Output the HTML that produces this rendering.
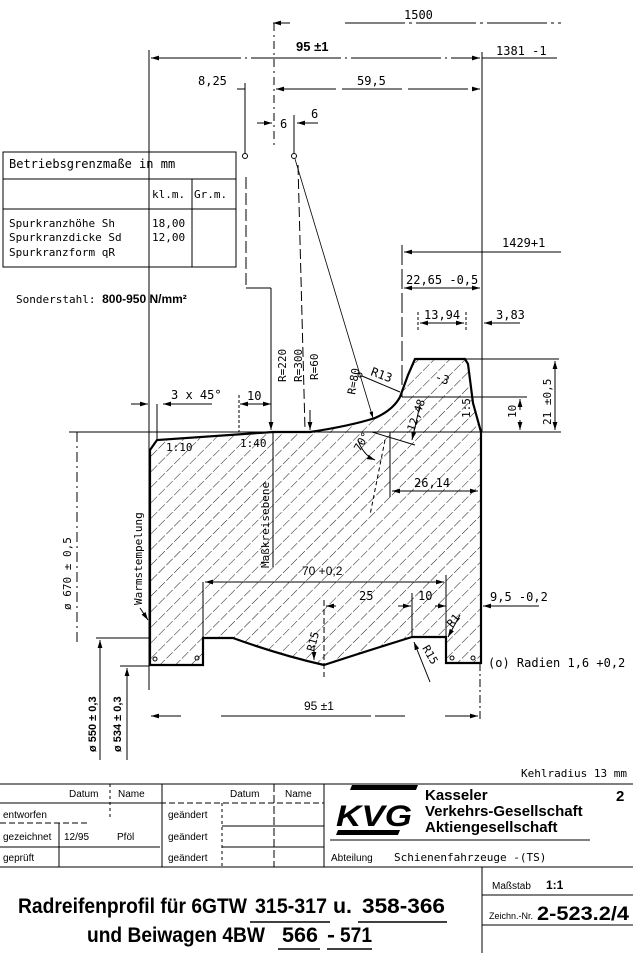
<!DOCTYPE html>
<html><head><meta charset="utf-8"><style>
html,body{margin:0;padding:0;background:#fff;}
svg{display:block;}
</style></head><body>
<svg width="633" height="953" viewBox="0 0 633 953" xmlns="http://www.w3.org/2000/svg" font-family="DejaVu Sans Mono, Liberation Mono, monospace">
<defs>
<pattern id="h" patternUnits="userSpaceOnUse" width="11" height="11" patternTransform="rotate(45)">
<line x1="0" y1="0" x2="0" y2="11" stroke="#000" stroke-width="0.9" stroke-dasharray="7 2"/>
</pattern>
<marker id="a" viewBox="0 0 10 6" refX="10" refY="3" markerWidth="8" markerHeight="5" orient="auto-start-reverse"><path d="M0,0L10,3L0,6z" fill="#000"/></marker>
</defs>
<g fill="none" stroke="#000" stroke-width="1">
<path d="M150,450 L157,440 L273,432 L310,432 Q350,426 375,418 Q393,410 400,397 L408,375 L415,359 L465,359 L468,364 L473,403 L481,432 L481,663 L446,663 L446,637 L412,637 Q370,650 324,665 Q280,655 233,638 L203,638 L203,665 L150,665 Z" fill="url(#h)" stroke-width="2.2"/>
<line x1="273" y1="23" x2="290" y2="23" marker-start="url(#a)"/>
<line x1="345" y1="23" x2="561" y2="23" stroke-dasharray="60 4 3 4"/>
<line x1="149" y1="50" x2="149" y2="690"/>
<line x1="482" y1="52" x2="482" y2="432"/>
<line x1="151" y1="58" x2="480" y2="58" marker-start="url(#a)" marker-end="url(#a)" stroke-dasharray="90 4 2 4"/>
<line x1="482" y1="58" x2="557" y2="58"/>
<line x1="276" y1="89" x2="480" y2="89" marker-start="url(#a)" marker-end="url(#a)" stroke-dasharray="60 6"/>
<line x1="237" y1="89" x2="245" y2="89"/>
<line x1="245" y1="83" x2="245" y2="153"/>
<circle cx="245" cy="156" r="2.5"/>
<line x1="274" y1="23" x2="274" y2="145" stroke-dasharray="8 4 2 4"/>
<line x1="257" y1="123" x2="272" y2="123" marker-end="url(#a)"/>
<line x1="318" y1="123" x2="297" y2="123" marker-end="url(#a)"/>
<line x1="294" y1="115" x2="294" y2="153"/>
<circle cx="294" cy="156" r="2.5"/>
<line x1="295" y1="159" x2="373" y2="418" stroke-width="0.8" marker-end="url(#a)"/>
<line x1="298" y1="165" x2="305" y2="430" stroke-dasharray="10 4"/>
<line x1="246" y1="177" x2="246" y2="288" stroke-dasharray="12 4"/>
<line x1="246" y1="288" x2="271" y2="288"/>
<line x1="271" y1="288" x2="271" y2="430" marker-end="url(#a)"/>
<line x1="310" y1="410" x2="310" y2="430" marker-end="url(#a)"/>
<circle cx="360" cy="375" r="2"/>
<line x1="362" y1="376" x2="400" y2="392"/>
<rect x="3" y="152" width="233" height="115"/>
<line x1="3" y1="179" x2="236" y2="179"/>
<line x1="3" y1="209" x2="236" y2="209"/>
<line x1="149" y1="179" x2="149" y2="267"/>
<line x1="192" y1="179" x2="192" y2="267"/>
<line x1="402" y1="245" x2="402" y2="397" stroke-dasharray="20 4"/>
<line x1="404" y1="252" x2="561" y2="252" marker-start="url(#a)"/>
<line x1="404" y1="288" x2="480" y2="288" marker-start="url(#a)" marker-end="url(#a)"/>
<line x1="418" y1="312" x2="418" y2="330" stroke-dasharray="3 2"/>
<line x1="466" y1="312" x2="466" y2="330" stroke-dasharray="3 2"/>
<line x1="420" y1="323" x2="464" y2="323" marker-start="url(#a)" marker-end="url(#a)"/>
<line x1="484" y1="323" x2="520" y2="323" marker-start="url(#a)"/>
<line x1="465" y1="359" x2="559" y2="359"/>
<line x1="402" y1="397" x2="527" y2="397"/>
<line x1="555" y1="361" x2="555" y2="430" marker-start="url(#a)" marker-end="url(#a)"/>
<line x1="520" y1="399" x2="520" y2="410" marker-start="url(#a)"/>
<line x1="520" y1="430" x2="520" y2="420" marker-start="url(#a)"/>
<line x1="372" y1="432" x2="415" y2="445"/>
<line x1="420" y1="405" x2="412" y2="440" marker-end="url(#a)"/>
</g>
<g fill="none" stroke="#000" stroke-width="1">
<line x1="69" y1="432" x2="561" y2="432"/>
<line x1="77" y1="432" x2="77" y2="642" stroke-dasharray="10 4 2 4"/>
<line x1="131" y1="404" x2="148" y2="404" marker-end="url(#a)"/>
<line x1="163" y1="404" x2="212" y2="404" marker-start="url(#a)"/>
<line x1="157" y1="404" x2="157" y2="440"/>
<line x1="240" y1="404" x2="271" y2="404" marker-start="url(#a)" marker-end="url(#a)"/>
<line x1="239" y1="395" x2="239" y2="432" stroke-dasharray="3 2"/>
<line x1="273" y1="432" x2="273" y2="567"/>
<path d="M358,440 Q363,455 375,460" marker-end="url(#a)"/>
<line x1="385" y1="440" x2="370" y2="515" stroke-dasharray="4 3"/>
<line x1="390" y1="432" x2="390" y2="497"/>
<line x1="392" y1="491" x2="478" y2="491" marker-start="url(#a)" marker-end="url(#a)"/>
<line x1="205" y1="582" x2="444" y2="582" marker-start="url(#a)" marker-end="url(#a)"/>
<line x1="446" y1="575" x2="446" y2="637"/>
<line x1="203" y1="582" x2="203" y2="638"/>
<line x1="324" y1="600" x2="324" y2="677" stroke-dasharray="6 3"/>
<line x1="326" y1="606" x2="336" y2="606" marker-start="url(#a)"/>
<line x1="398" y1="606" x2="411" y2="606" marker-end="url(#a)"/>
<line x1="435" y1="606" x2="446" y2="606" marker-end="url(#a)"/>
<line x1="412" y1="593" x2="412" y2="637"/>
<line x1="483" y1="606" x2="539" y2="606" marker-start="url(#a)"/>
<line x1="314" y1="645" x2="314" y2="660" marker-end="url(#a)"/>
<line x1="430" y1="682" x2="414" y2="642" marker-end="url(#a)"/>
<line x1="460" y1="615" x2="448" y2="637" marker-end="url(#a)"/>
<line x1="140" y1="608" x2="148" y2="620" marker-end="url(#a)"/>
<line x1="96" y1="638" x2="149" y2="638"/>
<line x1="120" y1="666" x2="149" y2="666"/>
<line x1="100" y1="680" x2="100" y2="640" marker-end="url(#a)"/>
<line x1="100" y1="680" x2="100" y2="760"/>
<line x1="127" y1="690" x2="127" y2="668" marker-end="url(#a)"/>
<line x1="127" y1="690" x2="127" y2="760"/>
<line x1="480" y1="663" x2="480" y2="720" stroke-dasharray="8 3 2 3"/>
<line x1="151" y1="716" x2="478" y2="716" marker-start="url(#a)" marker-end="url(#a)" stroke-dasharray="30 40 150 4"/>
<circle cx="155" cy="659" r="2"/><circle cx="197" cy="658" r="2"/><circle cx="452" cy="658" r="2"/><circle cx="473" cy="658" r="2"/>
</g>
<g font-size="12">
<text x="404" y="19">1500</text>
<text x="296" y="51" font-family="Liberation Sans, sans-serif" font-weight="bold" font-size="13">95 ±1</text>
<text x="496" y="55">1381 -1</text>
<text x="198" y="85">8,25</text>
<text x="357" y="85">59,5</text>
<text x="280" y="128">6</text>
<text x="311" y="118">6</text>
<text x="9" y="168" font-size="12">Betriebsgrenzmaße in mm</text>
<text x="152" y="198" font-size="11">kl.m.</text>
<text x="194" y="198" font-size="11">Gr.m.</text>
<text x="9" y="227" font-size="11">Spurkranzhöhe   Sh</text>
<text x="9" y="241" font-size="11">Spurkranzdicke  Sd</text>
<text x="9" y="256" font-size="11">Spurkranzform   qR</text>
<text x="152" y="227" font-size="11">18,00</text>
<text x="152" y="241" font-size="11">12,00</text>
<text x="16" y="303" font-size="11">Sonderstahl: <tspan font-family="Liberation Sans, sans-serif" font-weight="bold" font-size="12">800-950 N/mm²</tspan></text>
<text x="502" y="247">1429+1</text>
<text x="406" y="284">22,65 -0,5</text>
<text x="424" y="319">13,94</text>
<text x="496" y="319">3,83</text>
<text x="171" y="399">3 x 45°</text>
<text x="247" y="400">10</text>
<text x="166" y="451" font-size="11">1:10</text>
<text x="240" y="447" font-size="11">1:40</text>
<text x="370" y="375" transform="rotate(20 370 375)">R13</text>
<text x="434" y="380" transform="rotate(20 434 380)">-3</text>
<text x="414" y="487">26,14</text>
<text x="302" y="575" font-family="Liberation Sans, sans-serif">70 +0,2</text>
<text x="359" y="600">25</text>
<text x="418" y="600">10</text>
<text x="490" y="601">9,5 -0,2</text>
<text x="488" y="667" font-size="12">(o) Radien 1,6 +0,2</text>
<text x="304" y="710" font-family="Liberation Sans, sans-serif">95 ±1</text>
<text x="521" y="777" font-size="11">Kehlradius 13 mm (R13)</text>
</g>
<g font-size="11">
<text transform="translate(286,382) rotate(-90)">R=220</text>
<text transform="translate(302,382) rotate(-90)">R=300</text>
<text transform="translate(318,380) rotate(-90)">R=60</text>
<text transform="translate(355,395) rotate(-80)">R=80</text>
<text transform="translate(414,432) rotate(-70)">12,48</text>
<text transform="translate(470,418) rotate(-90)">1:5</text>
<text transform="translate(516,418) rotate(-90)">10</text>
<text transform="translate(551,425) rotate(-90)">21 ±0,5</text>
<text transform="translate(360,452) rotate(-60)">70°</text>
<text transform="translate(269,568) rotate(-90)">Maßkreisebene</text>
<text transform="translate(142,605) rotate(-90)">Warmstempelung</text>
<text transform="translate(71,610) rotate(-90)">ø 670 ± 0,5</text>
<text transform="translate(96,752) rotate(-90)" font-family="Liberation Sans, sans-serif" font-weight="bold">ø 550 ± 0,3</text>
<text transform="translate(121,752) rotate(-90)" font-family="Liberation Sans, sans-serif" font-weight="bold">ø 534 ± 0,3</text>
<text transform="translate(314,652) rotate(-75)">R15</text>
<text transform="translate(422,648) rotate(60)">R15</text>
<text transform="translate(452,628) rotate(-50)">R1</text>
</g>
<g fill="none" stroke="#000" stroke-width="1">
<line x1="0" y1="784" x2="633" y2="784"/>
<line x1="0" y1="803" x2="160" y2="803"/>
<line x1="0" y1="823" x2="90" y2="823" stroke-dasharray="6 3"/>
<line x1="0" y1="847" x2="160" y2="847"/>
<line x1="0" y1="867" x2="633" y2="867"/>
<line x1="160" y1="803" x2="324" y2="803" stroke-dasharray="6 3"/>
<line x1="222" y1="826" x2="324" y2="826"/>
<line x1="222" y1="847" x2="324" y2="847"/>
<line x1="59" y1="823" x2="59" y2="867"/>
<line x1="110" y1="784" x2="110" y2="820" stroke-dasharray="3 3"/>
<line x1="162" y1="784" x2="162" y2="867"/>
<line x1="222" y1="803" x2="222" y2="867" stroke-dasharray="3 3"/>
<line x1="274" y1="784" x2="274" y2="867" stroke-dasharray="8 3"/>
<line x1="324" y1="784" x2="324" y2="867"/>
<line x1="330" y1="840" x2="590" y2="840"/>
<line x1="482" y1="867" x2="482" y2="953"/>
<line x1="482" y1="895" x2="633" y2="895"/>
<line x1="482" y1="925" x2="633" y2="925"/>
</g>
<g font-family="Liberation Sans, sans-serif" font-size="10">
<text x="69" y="797">Datum</text>
<text x="118" y="797">Name</text>
<text x="230" y="797">Datum</text>
<text x="285" y="797">Name</text>
<text x="3" y="818">entworfen</text>
<text x="168" y="818">geändert</text>
<text x="3" y="840">gezeichnet</text>
<text x="64" y="840">12/95</text>
<text x="117" y="840">Pföl</text>
<text x="168" y="840">geändert</text>
<text x="3" y="861">geprüft</text>
<text x="168" y="861">geändert</text>
<text x="331" y="861">Abteilung</text>
<text x="394" y="861" font-family="DejaVu Sans Mono, monospace" font-size="11">Schienenfahrzeuge -(TS)</text>
<text x="492" y="889">Maßstab</text>
<text x="546" y="889" font-weight="bold" font-size="12">1:1</text>
<text x="489" y="919" font-size="9">Zeichn.-Nr.</text>
</g>
<g>
<path d="M352,785 L418,785 L416,790 L350,790 Z" fill="#000"/>
<path d="M336,835 L398,835 L400,830 L338,830 Z" fill="#000"/>
<text x="336" y="826" font-family="Liberation Sans, sans-serif" font-weight="bold" font-style="italic" font-size="30" textLength="76" lengthAdjust="spacingAndGlyphs">KVG</text>
</g>
<g font-family="Liberation Sans, sans-serif" font-weight="bold" font-size="15">
<text x="425" y="800">Kasseler</text>
<text x="425" y="816">Verkehrs-Gesellschaft</text>
<text x="425" y="832">Aktiengesellschaft</text>
<text x="616" y="801">2</text>
</g>
<text x="537" y="920" font-family="Liberation Sans, sans-serif" font-weight="bold" font-size="19" textLength="92" lengthAdjust="spacingAndGlyphs">2-523.2/4</text>
<g font-family="Liberation Sans, sans-serif" font-weight="bold" font-size="21">
<text x="18" y="913" textLength="229" lengthAdjust="spacingAndGlyphs">Radreifenprofil für 6GTW</text>
<text x="255" y="913" textLength="72" lengthAdjust="spacingAndGlyphs">315-317</text>
<text x="333" y="913" textLength="19" lengthAdjust="spacingAndGlyphs">u.</text>
<text x="362" y="913" textLength="83" lengthAdjust="spacingAndGlyphs">358-366</text>
<text x="87" y="942" textLength="178" lengthAdjust="spacingAndGlyphs">und Beiwagen 4BW</text>
<text x="282" y="942" textLength="36" lengthAdjust="spacingAndGlyphs">566</text>
<text x="327" y="942" textLength="8" lengthAdjust="spacingAndGlyphs">-</text>
<text x="340" y="942" textLength="32" lengthAdjust="spacingAndGlyphs">571</text>
</g>
<g stroke="#000" stroke-width="1.5">
<line x1="250" y1="922" x2="330" y2="922"/><line x1="358" y1="922" x2="447" y2="922"/>
<line x1="278" y1="949" x2="320" y2="949"/><line x1="327" y1="949" x2="372" y2="949"/>
</g>
</svg>
</body></html>
